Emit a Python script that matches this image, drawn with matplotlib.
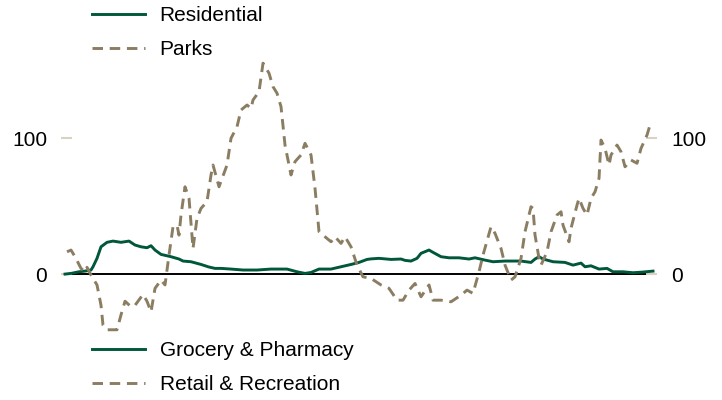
import matplotlib
matplotlib.use("Agg")
import matplotlib.pyplot as plt

plt.rcParams['font.family'] = ['Liberation Sans', 'DejaVu Sans']

GREEN = '#00573a'
TAN = '#8b7d62'

# days since start of series
res_days = [2, 5, 9, 12, 15, 16, 18, 20, 23, 26, 30, 34, 37, 40, 43, 45, 47, 50, 55, 59,
            61, 65, 70, 74, 77, 80, 85, 91, 98, 105, 113, 118, 122, 125, 129, 135, 140, 145,
            149, 153, 155, 159, 165, 170, 172, 175, 178, 180, 184, 186, 190, 194, 199, 204,
            207, 212, 216, 222, 227, 230, 235, 237, 239, 241, 246, 252, 256, 260, 262, 265,
            269, 273, 276, 281, 286, 291, 296]
residential = [0, 0.5, 1.7, 2.2, 3, 5.4, 11.6, 20.1, 23.4, 24.3, 23.4, 24.3, 21.4, 20.1, 19.4,
               20.9, 17.7, 14.5, 12.8, 11.1, 9.6, 9.1, 7.1, 5.2, 4.2, 4.2, 3.7, 3, 3, 3.7, 3.7,
               1.7, 0.5, 1.2, 3.7, 3.7, 5.4, 7.1, 8.6, 10.8, 11.2, 11.6, 10.8, 11.1, 10.1, 9.6,
               11.6, 15.3, 17.7, 16, 12.8, 12, 12, 11.1, 12, 10.3, 9.1, 9.6, 9.6, 9.6, 8.6, 11.1,
               12.8, 11.1, 9.1, 8.6, 6.6, 8.1, 5.4, 6.1, 3.7, 4.2, 1.7, 1.7, 1, 1.5, 2.2]

park_days = [3, 5, 7, 10, 12, 13, 15, 18, 20, 21, 23, 25, 28, 30, 32, 35, 37, 41, 43, 45, 47,
             50, 52, 54, 56, 58, 59, 60, 62, 64, 66, 68, 70, 73, 75, 76, 79, 83, 85, 88, 90, 93,
             95, 96, 99, 101, 104, 106, 108, 110, 112, 115, 117, 120, 122, 125, 127, 129, 132,
             135, 137, 140, 142, 145, 148, 151, 155, 160, 164, 168, 171, 174, 177, 180, 184,
             186, 190, 195, 200, 203, 206, 209, 211, 215, 217, 220, 222, 225, 227, 230, 232,
             235, 236, 237, 239, 240, 243, 245, 248, 250, 251, 254, 255, 258, 259, 261, 263,
             265, 267, 269, 270, 272, 274, 275, 278, 280, 282, 285, 288, 290, 293, 295]
parks = [16.4, 17.7, 12.8, 4.2, 1.7, 5, -0.7, -8, -23, -37.6, -41, -41, -41, -30, -20, -24,
         -23, -15, -20, -27.8, -10.5, -4.4, -8, 14, 34.9, 36, 28.7, 43.5, 64.3, 55.8, 18.9, 41,
         48.4, 53.3, 73, 80.3, 64.3, 80.3, 100, 108.5, 120.8, 124.5, 122, 128.2, 134.3, 155.3,
         147.9, 138, 133.2, 123.3, 95, 73, 82.8, 87.7, 96.3, 87.7, 63.2, 31.2, 27.5, 23.8,
         27.5, 22.6, 27.5, 20.1, 6.6, -2, -3.2, -8, -10.5, -19.2, -19.2, -11.8, -6.9, -16.7,
         -8, -19.2, -19.2, -20.4, -15.5, -11.8, -14.2, 1.7, 14, 34.9, 30, 18.9, 6.6, -4.4, -2,
         11.6, 31.2, 49.6, 48.4, 28.7, 11.6, 6.6, 16.4, 31.2, 43.5, 45.9, 36, 23.8, 33.7, 50.8,
         55.8, 48.4, 43.5, 55.8, 60.6, 70.5, 98.7, 92.6, 80.3, 87.7, 95, 90.1, 79, 84, 81.6,
         92.6, 102.4, 112.2]

fig = plt.figure(figsize=(7.22, 4.0), dpi=100)
ax = fig.add_axes([0.0845, 0.145, 0.8255, 0.713])

l1, = ax.plot(res_days, residential, color=GREEN, lw=2.1, label='Residential')
l2, = ax.plot(park_days, parks, color=TAN, lw=2.1, dashes=(3.6, 2.3), label='Parks')
ax.axhline(0, color='black', lw=1.4, zorder=1)

ax.set_xlim(0, 298)
ax.set_ylim(-50, 160)
ax.set_yticks([0, 100])
ax.set_xticks([])
for s in ax.spines.values():
    s.set_visible(False)
ax.tick_params(axis='y', direction='in', length=8, width=1.5, color='#d9d2c3',
               labelsize=15, pad=10, left=True, right=True, labelleft=True, labelright=True)

leg_kw = dict(frameon=False, fontsize=15, handlelength=2.55, handletextpad=0.7,
              labelspacing=0.72, borderaxespad=0, borderpad=0)
fig.legend(handles=[l1, l2], loc='upper left', bbox_to_anchor=(92 / 722, 1 - 6 / 400), **leg_kw)
fig.legend(handles=[l1, l2], labels=['Grocery & Pharmacy', 'Retail & Recreation'],
           loc='upper left', bbox_to_anchor=(92 / 722, 1 - 341 / 400), **leg_kw)

fig.savefig('out.png', dpi=100)
